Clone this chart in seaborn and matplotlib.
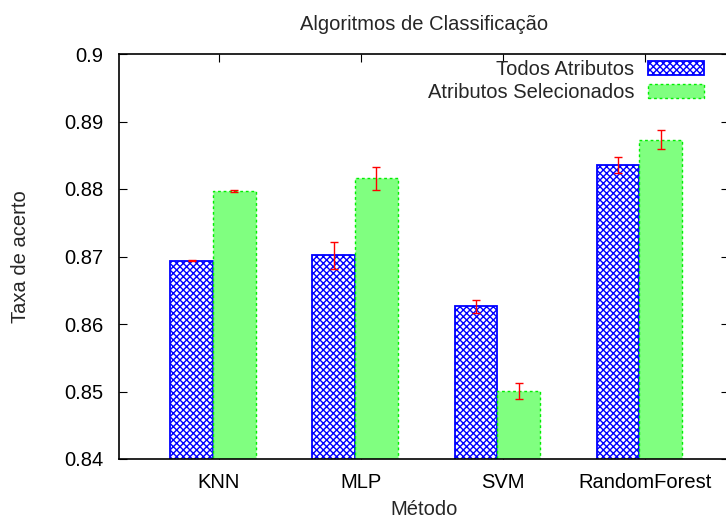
import numpy as np
import pandas as pd
import matplotlib
matplotlib.use("Agg")
import matplotlib.pyplot as plt
import seaborn as sns

# Dados
metodos = ["KNN", "MLP", "SVM", "RandomForest"]
series = ["Todos Atributos", "Atributos Selecionados"]
todos = [0.8694, 0.8702, 0.8626, 0.8835]
todos_err = [0.0001, 0.0020, 0.0010, 0.0012]
selec = [0.8797, 0.8816, 0.8501, 0.8873]
selec_err = [0.0001, 0.0017, 0.0012, 0.0014]
yticks = [0.84, 0.85, 0.86, 0.87, 0.88, 0.89, 0.9]

df = pd.DataFrame({
    "metodo": metodos * 2,
    "serie": [series[0]] * 4 + [series[1]] * 4,
    "taxa": todos + selec,
})

FS = 14.5

sns.set_style("white")
plt.rcParams["font.family"] = ["Liberation Sans", "DejaVu Sans"]
plt.rcParams["font.size"] = FS

fig = plt.figure(figsize=(7.26, 5.20), dpi=100)
ax = fig.add_axes([119 / 726, 61 / 520, 610 / 726, 405 / 520])

sns.barplot(data=df, x="metodo", y="taxa", hue="serie", order=metodos,
            hue_order=series, width=0.6, gap=0, errorbar=None, ax=ax)

# estilo das barras (tipo gnuplot)
estilos = [
    dict(facecolor="white", edgecolor="#0000ff", hatch="xxxxx", linewidth=1.3, linestyle="-"),
    dict(facecolor="#80ff80", edgecolor="#00ee00", hatch=None, linewidth=1.0, linestyle=(0, (2, 2))),
]
erros = [todos_err, selec_err]
for cont, est, err in zip(ax.containers, estilos, erros):
    xs, ys = [], []
    for p in cont.patches:
        p.set_facecolor(est["facecolor"])
        p.set_edgecolor(est["edgecolor"])
        p.set_hatch(est["hatch"])
        p.set_linewidth(est["linewidth"])
        p.set_linestyle(est["linestyle"])
        xs.append(p.get_x() + p.get_width() / 2)
        ys.append(p.get_height())
    ax.errorbar(xs, ys, yerr=err, fmt="none", ecolor="red", elinewidth=1.0,
                capsize=3, capthick=1.0, zorder=5)

ax.set_ylim(0.84, 0.9)
ax.set_xlim(-0.66, 3.63)
ax.set_yticks(yticks)
ax.set_yticklabels([f"{v:g}" for v in yticks])
ax.set_xticks(np.arange(len(metodos)) + 0.04)
ax.set_xticklabels(metodos)

ax.tick_params(axis="both", direction="in", length=6, width=0.8, colors="black",
               labelcolor="black", labelsize=FS)
ax.tick_params(axis="y", right=True, left=True, pad=11)
ax.tick_params(axis="x", top=True, bottom=True, pad=10)
ax.spines["right"].set_visible(False)
for s in ["left", "top", "bottom"]:
    ax.spines[s].set_color("black")
    ax.spines[s].set_linewidth(1.2)

ax.set_title("Algoritmos de Classificação", fontsize=FS, pad=17)
ax.set_xlabel("Método", fontsize=FS, labelpad=6)
ax.set_ylabel("Taxa de acerto", fontsize=FS, labelpad=25)

handles, labels = ax.get_legend_handles_labels()
for h, est in zip(handles, estilos):
    h.set_facecolor(est["facecolor"])
    h.set_edgecolor(est["edgecolor"])
    h.set_hatch(est["hatch"])
    h.set_linewidth(est["linewidth"])
    h.set_linestyle(est["linestyle"])
ax.legend(handles, labels, loc="upper right", bbox_to_anchor=(0.985, 1.025),
          frameon=False, markerfirst=False, handlelength=2.75, handleheight=0.65,
          labelspacing=0.2, borderpad=0.3, handletextpad=0.7, fontsize=FS)

fig.savefig("out.png", dpi=100)
